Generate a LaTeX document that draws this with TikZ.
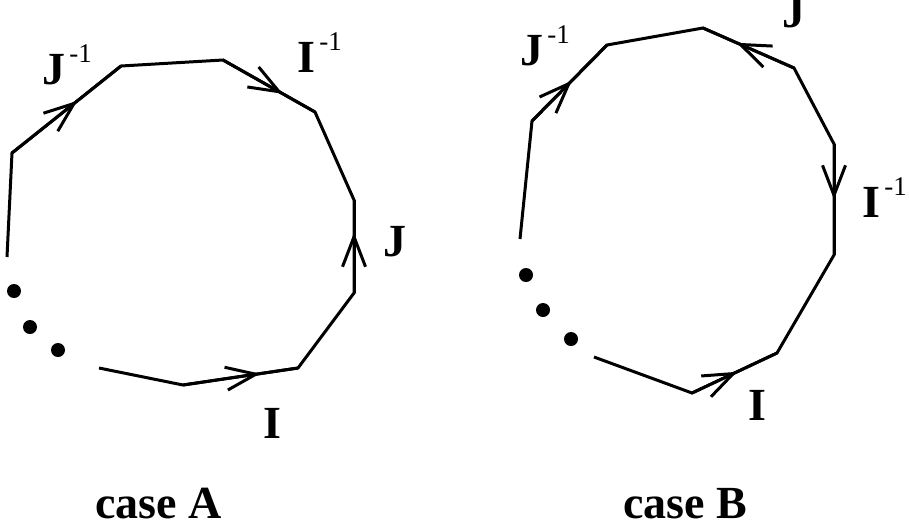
\documentclass[tikz,border=0pt]{standalone}
\usepackage{fontspec}
\setmainfont{Liberation Serif}
\usetikzlibrary{arrows.meta,decorations.markings}

\tikzset{
  edge/.style={line width=1.5pt},
  midarrow/.style={edge,postaction={decorate},decoration={markings,
      mark=at position #1 with {\arrow{Straight Barb[length=15pt,width=11.5pt]}}}},
  lab/.style={inner sep=0pt,anchor=base west,font=\fontsize{23}{23}\selectfont\bfseries},
  spot/.style={fill=black},
}
\newcommand{\inv}{\kern2pt\raisebox{11pt}{\fontsize{13.5}{13.5}\selectfont\mdseries -1}}

\begin{document}
\begin{tikzpicture}[x=5pt,y=5pt]
    \useasboundingbox (0,0) rectangle (90.9,52.7);

    % case A
    \coordinate (a0) at (0.7,27.0);
    \coordinate (a1) at (1.2,37.4);
    \coordinate (a2) at (12.1,46.1);
    \coordinate (a3) at (22.3,46.7);
    \coordinate (a4) at (31.5,41.5);
    \coordinate (a5) at (35.4,32.7);
    \coordinate (a6) at (35.4,23.4);
    \coordinate (a7) at (29.8,15.9);
    \coordinate (a8) at (18.3,14.2);
    \coordinate (a9) at (9.9,15.9);
    \draw[edge] (a0) -- (a1) -- (a2) -- (a3) -- (a4) -- (a5) -- (a6) -- (a7) -- (a8) -- (a9);
    \foreach \s/\e/\p in {a1/a2/0.6, a3/a4/0.65, a6/a5/0.65, a8/a7/0.67}
        \draw[midarrow=\p] (\s) -- (\e);
    \fill[spot] (1.4,23.6) circle (0.7);
    \fill[spot] (3.0,20.0) circle (0.7);
    \fill[spot] (5.8,17.7) circle (0.7);

    \node[lab] (jinvA) at (4.2,44.3) {J\inv};
    \node[lab] (iinvA) at (29.7,45.5) {I\inv};
    \node[lab] (jA) at (38.3,27.1) {J};
    \node[lab] (iA) at (26.3,8.9) {I};
    \node[lab] (caseA) at (9.5,0.9) {case A};

    % case B
    \coordinate (b0) at (52.0,28.8);
    \coordinate (b1) at (53.2,40.6);
    \coordinate (b2) at (60.7,48.2);
    \coordinate (b3) at (70.3,49.9);
    \coordinate (b4) at (79.4,45.9);
    \coordinate (b5) at (83.4,38.3);
    \coordinate (b6) at (83.4,27.2);
    \coordinate (b7) at (77.7,17.4);
    \coordinate (b8) at (69.2,13.4);
    \coordinate (b9) at (59.4,17.0);
    \draw[edge] (b0) -- (b1) -- (b2) -- (b3) -- (b4) -- (b5) -- (b6) -- (b7) -- (b8) -- (b9);
    \foreach \s/\e/\p in {b1/b2/0.53, b4/b3/0.63, b5/b6/0.5, b8/b7/0.53}
        \draw[midarrow=\p] (\s) -- (\e);
    \fill[spot] (52.6,25.2) circle (0.7);
    \fill[spot] (54.3,21.7) circle (0.7);
    \fill[spot] (57.1,18.8) circle (0.7);

    \node[lab] (jinvB) at (52.0,46.2) {J\inv};
    \node[lab] (jB) at (78.2,50.0) {J};
    \node[lab] (iinvB) at (86.2,31.0) {I\inv};
    \node[lab] (iB) at (74.8,10.7) {I};
    \node[lab] (caseB) at (62.3,0.9) {case B};
\end{tikzpicture}
\end{document}
